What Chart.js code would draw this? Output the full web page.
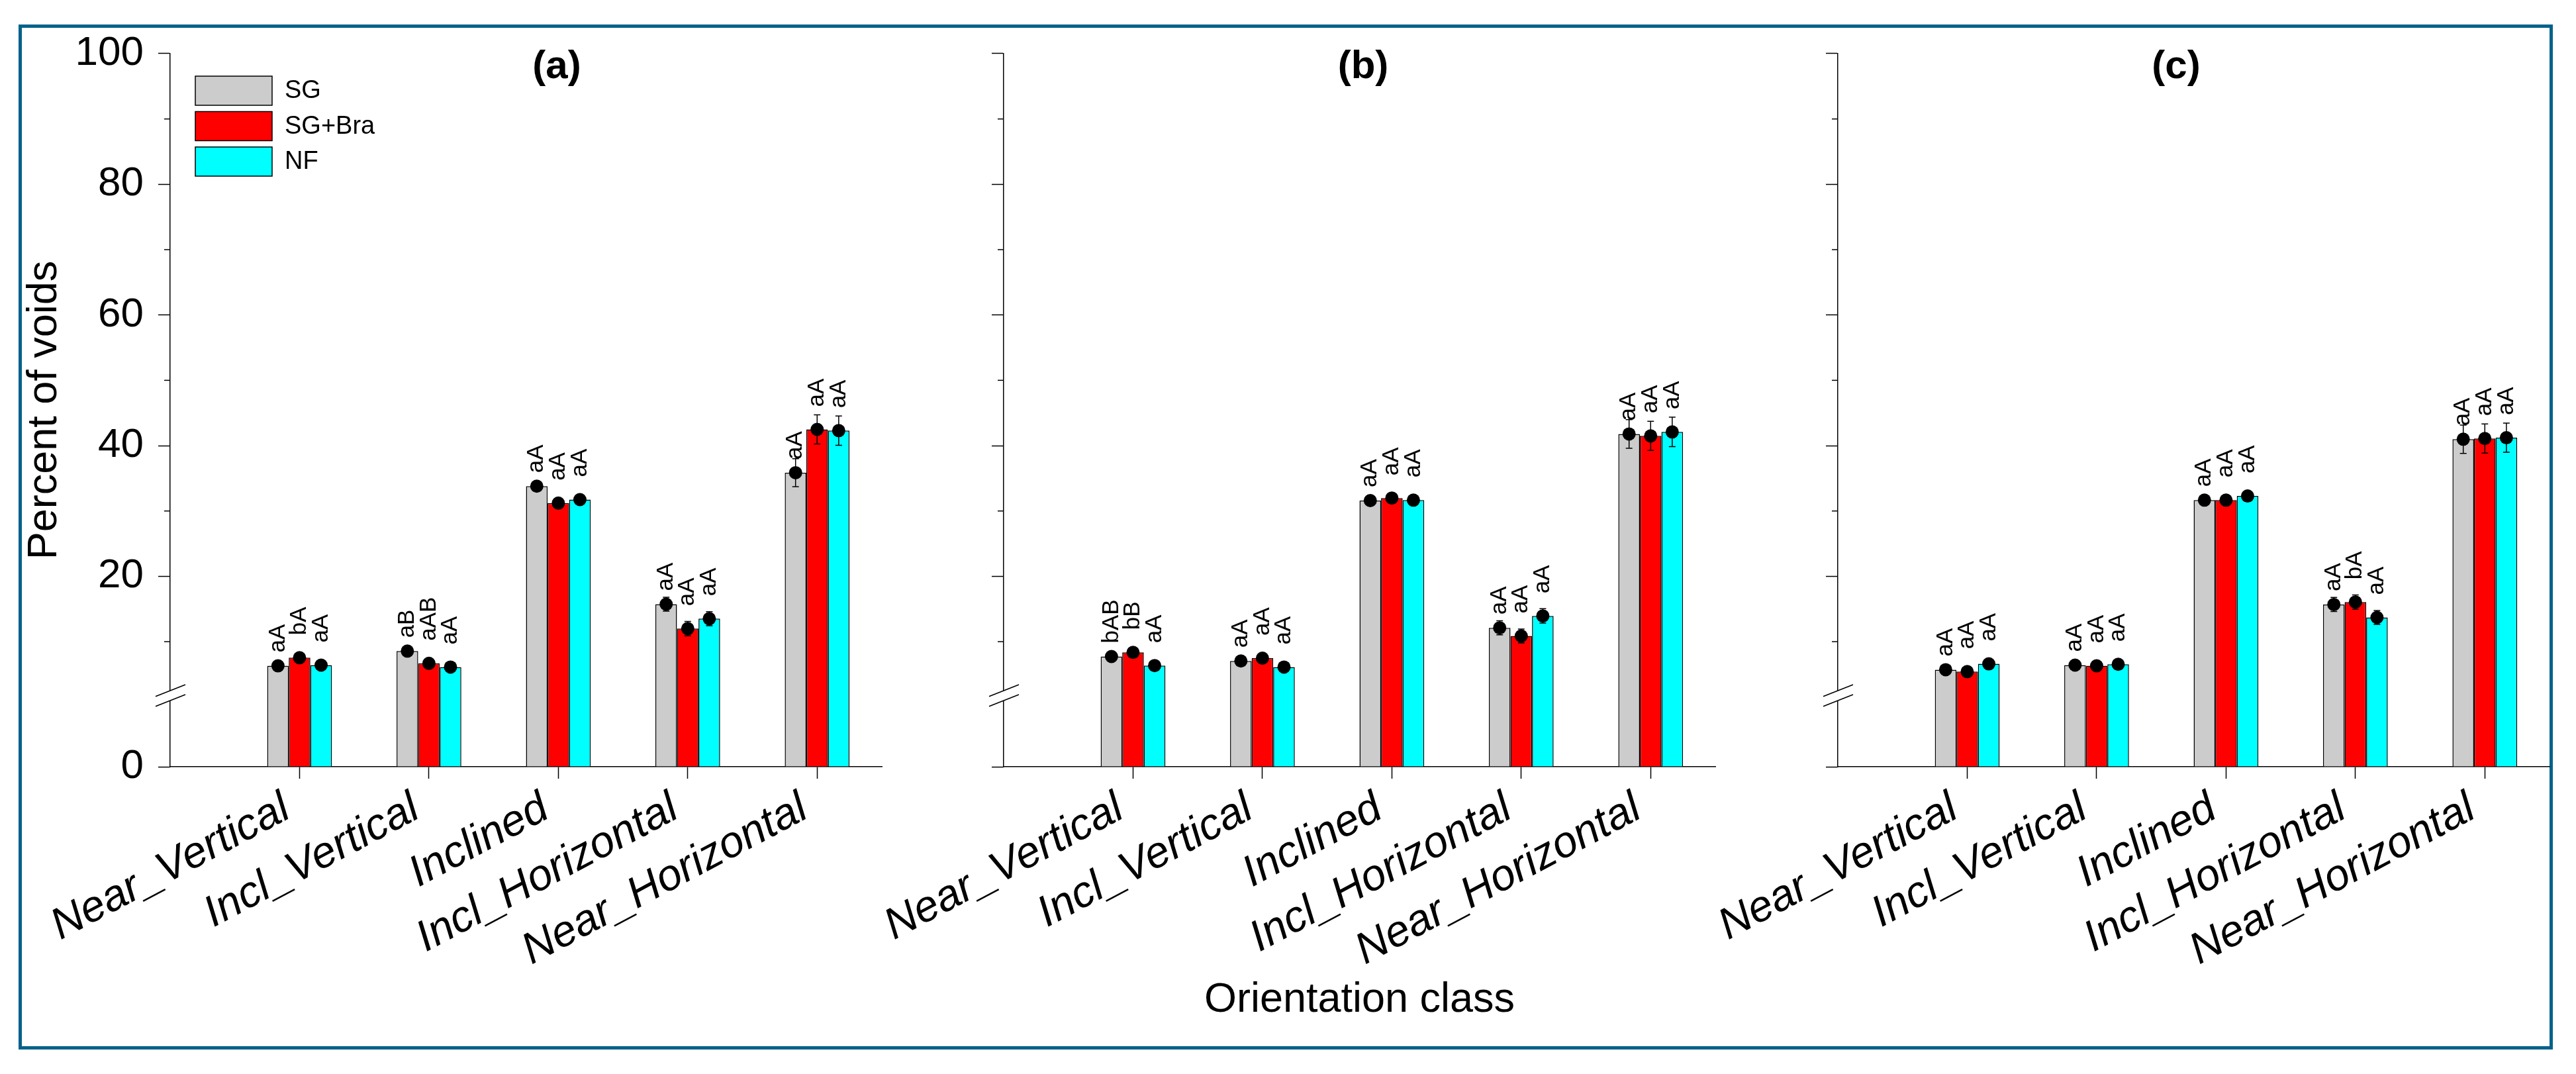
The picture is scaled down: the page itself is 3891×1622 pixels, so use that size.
<!DOCTYPE html>
<html lang="en">
<head>
  <meta charset="UTF-8">
  <title>Percent of voids by orientation class</title>
  <script src="https://cdn.jsdelivr.net/npm/chart.js"></script>
  <style>
    body {
      margin: 0;
      background: #fff;
      font-family: Arial, "Liberation Sans", sans-serif;
    }
    #page {
      position: relative;
      width: 3891px;
      height: 1622px;
      overflow: hidden;
    }
    #frame {
      position: absolute;
      left: 28px;
      top: 37px;
      width: 3828px;
      height: 1548px;
      border: 5px solid #00628a;
      box-sizing: border-box;
    }
    canvas {
      position: absolute;
      top: 0;
    }
  </style>
</head>
<body>
<div id="page">
  <div id="frame"></div>
  <canvas id="panelA" width="1342" height="1622" style="left:0px"></canvas>
  <canvas id="panelB" width="1385" height="1622" style="left:1216px"></canvas>
  <canvas id="panelC" width="1385" height="1622" style="left:2476px"></canvas>
</div>

<script>
  // categorias e tratamentos
  const categories = ['Near_Vertical', 'Incl_Vertical', 'Inclined', 'Incl_Horizontal', 'Near_Horizontal'];
  const seriesNames = ['SG', 'SG+Bra', 'NF'];
  const seriesColors = ['#cccccc', '#ff0000', '#00ffff'];
  const yTicks = [0, 20, 40, 60, 80, 100];
  const yMinorTicks = [10, 30, 50, 70, 90];

  // (a)
  const sgA  = [6.3, 8.55, 33.8, 15.73, 35.86];
  const braA = [7.54, 6.68, 31.2, 12.0, 42.49];
  const nfA  = [6.41, 6.11, 31.74, 13.52, 42.3];
  const sgErrA  = [0.3, 0.3, 0.4, 1.07, 2.15];
  const braErrA = [0.3, 0.3, 0.3, 1.1, 2.23];
  const nfErrA  = [0.3, 0.3, 0.3, 1.07, 2.25];
  const sgLetA  = ['aA', 'aB', 'aA', 'aA', 'aA'];
  const braLetA = ['bA', 'aAB', 'aA', 'aA', 'aA'];
  const nfLetA  = ['aA', 'aA', 'aA', 'aA', 'aA'];

  // (b)
  const sgB  = [7.73, 7.04, 31.59, 12.12, 41.79];
  const braB = [8.36, 7.47, 31.98, 10.87, 41.49];
  const nfB  = [6.34, 6.11, 31.66, 13.94, 42.1];
  const sgErrB  = [0.3, 0.3, 0.3, 1.07, 2.2];
  const braErrB = [0.3, 0.3, 0.3, 1.07, 2.23];
  const nfErrB  = [0.3, 0.3, 0.3, 1.1, 2.25];
  const sgLetB  = ['bAB', 'aA', 'aA', 'aA', 'aA'];
  const braLetB = ['bB', 'aA', 'aA', 'aA', 'aA'];
  const nfLetB  = ['aA', 'aA', 'aA', 'aA', 'aA'];

  // (c)
  const sgC  = [5.71, 6.41, 31.66, 15.69, 40.98];
  const braC = [5.41, 6.3, 31.66, 16.07, 41.09];
  const nfC  = [6.6, 6.53, 32.29, 13.71, 41.21];
  const sgErrC  = [0.3, 0.3, 0.3, 1.07, 2.17];
  const braErrC = [0.3, 0.3, 0.3, 1.09, 2.23];
  const nfErrC  = [0.3, 0.3, 0.3, 1.07, 2.23];
  const sgLetC  = ['aA', 'aA', 'aA', 'aA', 'aA'];
  const braLetC = ['aA', 'aA', 'aA', 'bA', 'aA'];
  const nfLetC  = ['aA', 'aA', 'aA', 'aA', 'aA'];

  Chart.defaults.font.family = 'Arial, "Liberation Sans", sans-serif';
  Chart.defaults.color = '#000';

  // eixo y com quebra entre 0 e 3
  const BREAK_AT = 3;
  const BREAK_FRAC = 0.1113;

  class BrokenScale extends Chart.LinearScale {
    getPixelForValue(value) {
      const h = this.bottom - this.top;
      const low = h * BREAK_FRAC;
      if (value <= BREAK_AT) return this.bottom - (value / BREAK_AT) * low;
      return this.bottom - low - (value - BREAK_AT) / (this.max - BREAK_AT) * (h - low);
    }
    getValueForPixel(pixel) {
      const h = this.bottom - this.top;
      const low = h * BREAK_FRAC;
      const d = this.bottom - pixel;
      if (d <= low) return d / low * BREAK_AT;
      return BREAK_AT + (d - low) / (h - low) * (this.max - BREAK_AT);
    }
  }
  BrokenScale.id = 'broken';
  BrokenScale.defaults = Chart.LinearScale.defaults;
  Chart.register(BrokenScale);

  // barras de erro, pontos e letras
  const marksPlugin = {
    id: 'marks',
    afterDatasetsDraw(chart, args, opts) {
      const ctx = chart.ctx;
      const y = chart.scales.y;
      chart.data.datasets.forEach((ds, d) => {
        const meta = chart.getDatasetMeta(d);
        meta.data.forEach((bar, i) => {
          const v = ds.data[i].y;
          const e = opts.err[d][i];
          const top = y.getPixelForValue(v + e);
          const bot = y.getPixelForValue(v - e);
          ctx.save();
          ctx.strokeStyle = '#000';
          ctx.lineWidth = 1.5;
          ctx.beginPath();
          ctx.moveTo(bar.x, top); ctx.lineTo(bar.x, bot);
          ctx.moveTo(bar.x - 5, top); ctx.lineTo(bar.x + 5, top);
          ctx.moveTo(bar.x - 5, bot); ctx.lineTo(bar.x + 5, bot);
          ctx.stroke();
          ctx.fillStyle = '#000';
          ctx.beginPath();
          ctx.arc(bar.x, bar.y, 10, 0, Math.PI * 2);
          ctx.fill();
          ctx.translate(bar.x, bar.y - opts.gap[d]);
          ctx.rotate(-Math.PI / 2);
          ctx.font = '35px Arial, "Liberation Sans", sans-serif';
          ctx.textAlign = 'left';
          ctx.textBaseline = 'middle';
          ctx.fillText(opts.letters[d][i], 0, 0);
          ctx.restore();
        });
      });
    }
  };

  // ticks menores, quebra do eixo, título do painel e legenda
  const decorPlugin = {
    id: 'decor',
    afterDraw(chart, args, opts) {
      const ctx = chart.ctx;
      const y = chart.scales.y;
      const ax = chart.chartArea.left;
      ctx.save();
      ctx.strokeStyle = '#000';
      ctx.lineWidth = 1.5;
      yMinorTicks.forEach(v => {
        const p = y.getPixelForValue(v);
        ctx.beginPath(); ctx.moveTo(ax - 9, p); ctx.lineTo(ax, p); ctx.stroke();
      });

      const b1 = y.bottom - 115, b2 = y.bottom - 100;
      ctx.fillStyle = '#fff';
      ctx.fillRect(ax - 3, b1, 6, b2 - b1);
      ctx.lineWidth = 1.5;
      [b1, b2].forEach(b => {
        ctx.beginPath();
        ctx.moveTo(ax - 22, b + 8.7);
        ctx.lineTo(ax + 23, b - 9);
        ctx.stroke();
      });

      ctx.fillStyle = '#000';
      ctx.font = 'bold 60px Arial, "Liberation Sans", sans-serif';
      ctx.textAlign = 'center';
      ctx.textBaseline = 'middle';
      ctx.fillText(opts.title, ax + opts.titleDx, chart.chartArea.top + 20);

      if (opts.legend) {
        chart.data.datasets.forEach((ds, d) => {
          const bx = ax + 38;
          const by = chart.chartArea.top + 34 + d * 53.5;
          ctx.fillStyle = ds.backgroundColor;
          ctx.fillRect(bx, by, 116, 44);
          ctx.strokeStyle = '#000';
          ctx.lineWidth = 1.5;
          ctx.strokeRect(bx, by, 116, 44);
          ctx.fillStyle = '#000';
          ctx.font = '38px Arial, "Liberation Sans", sans-serif';
          ctx.textAlign = 'left';
          ctx.textBaseline = 'middle';
          ctx.fillText(ds.label, bx + 135, by + 23);
        });
      }
      ctx.restore();
    }
  };

  function makeDataset(name, color, values) {
    return {
      label: name,
      data: values.map((v, i) => ({ x: i + 1, y: v })),
      backgroundColor: color,
      borderColor: '#000',
      borderWidth: 1.5,
      categoryPercentage: 0.5,
      barPercentage: 1.0
    };
  }

  function makePanel(canvasId, cfg) {
    const ds = [cfg.sg, cfg.bra, cfg.nf].map((vals, d) => makeDataset(seriesNames[d], seriesColors[d], vals));
    return new Chart(document.getElementById(canvasId), {
      type: 'bar',
      data: { datasets: ds },
      plugins: [marksPlugin, decorPlugin],
      options: {
        responsive: false,
        animation: false,
        devicePixelRatio: 1,
        layout: { padding: { top: 81, right: 10, left: 0, bottom: 0 } },
        plugins: {
          legend: { display: false },
          tooltip: { enabled: false },
          marks: { err: cfg.err, letters: cfg.letters, gap: [20, 34, 34] },
          decor: { title: cfg.title, titleDx: cfg.titleDx, legend: cfg.legend }
        },
        scales: {
          x: {
            type: 'linear',
            offset: false,
            min: 0,
            max: 5.5,
            afterBuildTicks: s => { s.ticks = categories.map((c, i) => ({ value: i + 1 })); },
            afterFit: s => {
              s.height = 1622 - 1158;
              s.paddingLeft = 0;
              s.paddingRight = 0;
            },
            ticks: {
              autoSkip: false,
              minRotation: 28,
              maxRotation: 28,
              padding: 6,
              labelOffset: -19,
              font: { size: 66, style: 'italic' },
              callback: v => categories[v - 1]
            },
            grid: { drawOnChartArea: false, offset: false, tickLength: 18, tickColor: '#000', tickWidth: 1.5 },
            border: { color: '#000', width: 1.5 },
            title: {
              display: cfg.xTitle,
              text: 'Orientation class',
              font: { size: 63 },
              padding: { top: 0, bottom: 74 }
            }
          },
          y: {
            type: 'broken',
            min: 0,
            max: 100,
            afterBuildTicks: s => { s.ticks = yTicks.map(v => ({ value: v })); },
            afterFit: s => { s.width = cfg.yWidth; },
            ticks: { display: cfg.yLabels, padding: 22, font: { size: 62 } },
            grid: { drawOnChartArea: false, tickLength: 18, tickColor: '#000', tickWidth: 1.5 },
            border: { color: '#000', width: 1.5 },
            title: {
              display: cfg.yLabels,
              text: 'Percent of voids',
              font: { size: 63 },
              padding: { top: 30, bottom: 0 }
            }
          }
        }
      }
    });
  }

  makePanel('panelA', {
    sg: sgA, bra: braA, nf: nfA,
    err: [sgErrA, braErrA, nfErrA],
    letters: [sgLetA, braLetA, nfLetA],
    title: '(a)', titleDx: 584, legend: true,
    yLabels: true, yWidth: 257, xTitle: false
  });
  makePanel('panelB', {
    sg: sgB, bra: braB, nf: nfB,
    err: [sgErrB, braErrB, nfErrB],
    letters: [sgLetB, braLetB, nfLetB],
    title: '(b)', titleDx: 543, legend: false,
    yLabels: false, yWidth: 300, xTitle: true
  });
  makePanel('panelC', {
    sg: sgC, bra: braC, nf: nfC,
    err: [sgErrC, braErrC, nfErrC],
    letters: [sgLetC, braLetC, nfLetC],
    title: '(c)', titleDx: 511, legend: false,
    yLabels: false, yWidth: 300, xTitle: false
  });
</script>
</body>
</html>
